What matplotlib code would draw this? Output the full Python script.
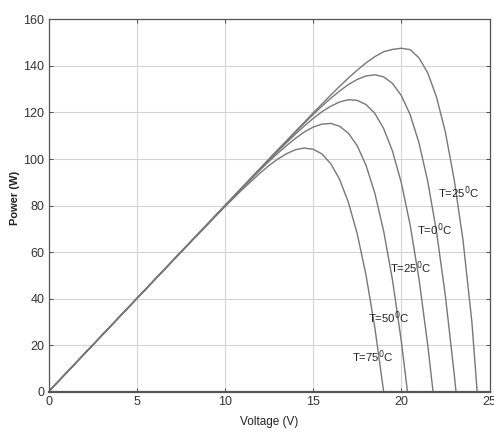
import numpy as np
import matplotlib.pyplot as plt

plt.rcParams['font.family'] = ['Liberation Sans', 'DejaVu Sans']

# P-V curves, one per cell temperature
v_m25 = [0, 2.5, 5, 7.5, 10, 11, 12, 12.5, 13, 13.5, 14, 14.5, 15, 15.5, 16, 16.5, 17, 17.5,
         18, 18.5, 19, 19.5, 20, 20.5, 21, 21.5, 22, 22.5, 23, 23.5, 24, 24.3]
p_m25 = [0, 20.0, 40.0, 60.0, 80.0, 88.0, 96.0, 100.0, 104.0, 107.9, 111.9, 115.8, 119.8, 123.6,
         127.5, 131.2, 134.8, 138.2, 141.3, 144.0, 146.1, 147.1, 147.6, 147.0, 143.5, 137.0,
         126.5, 111.5, 91.0, 65.0, 30.0, 0]

v_0 = [0, 2.5, 5, 7.5, 10, 11, 12, 12.5, 13, 13.5, 14, 14.5, 15, 15.5, 16, 16.5, 17, 17.5,
       18, 18.5, 19, 19.5, 20, 20.5, 21, 21.5, 22, 22.5, 23, 23.1]
p_0 = [0, 20.0, 40.0, 60.0, 80.0, 88.0, 95.9, 99.9, 103.8, 107.7, 111.6, 115.4, 119.1, 122.7,
       126.1, 129.2, 132.0, 134.2, 135.7, 136.2, 135.3, 132.5, 127.3, 119.1, 107.0, 90.4,
       68.6, 41.1, 7.5, 0]

v_25 = [0, 2.5, 5, 7.5, 10, 11, 12, 12.5, 13, 13.5, 14, 14.5, 15, 15.5, 16, 16.5, 17, 17.5,
        18, 18.5, 19, 19.5, 20, 20.5, 21, 21.5, 21.8]
p_25 = [0, 20.0, 40.0, 60.0, 79.9, 87.9, 95.7, 99.6, 103.4, 107.1, 110.7, 114.2, 117.4, 120.3,
        122.7, 124.5, 125.5, 125.2, 123.4, 119.6, 113.1, 103.4, 89.8, 71.7, 48.6, 20.0, 0]

v_50 = [0, 2.5, 5, 7.5, 10, 11, 12, 12.5, 13, 13.5, 14, 14.5, 15, 15.5, 16, 16.5, 17, 17.5,
        18, 18.5, 19, 19.5, 20, 20.35]
p_50 = [0, 20.0, 40.0, 60.0, 79.8, 87.7, 95.3, 99.0, 102.5, 105.8, 108.9, 111.6, 113.7, 115.0,
        115.3, 114.1, 111.1, 105.7, 97.3, 85.3, 69.0, 48.0, 21.7, 0]

v_75 = [0, 2.5, 5, 7.5, 10, 11, 12, 12.5, 13, 13.5, 14, 14.5, 15, 15.5, 16, 16.5, 17, 17.5,
        18, 18.5, 19]
p_75 = [0, 20.0, 40.0, 59.9, 79.5, 87.0, 94.0, 97.2, 100.0, 102.3, 104.0, 104.7, 104.2, 102.2,
        98.0, 91.3, 81.4, 67.9, 50.1, 27.5, 0]

curves = [(v_m25, p_m25), (v_0, p_0), (v_25, p_25), (v_50, p_50), (v_75, p_75)]

labels = ['T=25$^{\\rm 0}$C', 'T=0$^{\\rm 0}$C', 'T=25$^{\\rm 0}$C', 'T=50$^{\\rm 0}$C', 'T=75$^{\\rm 0}$C']
label_x = [23.27, 21.9, 20.55, 19.3, 18.4]
label_y = [85.4, 69.5, 53.1, 31.7, 14.9]

fig = plt.figure(figsize=(4.94, 4.38), dpi=100)
ax = fig.add_axes([0.0982, 0.1057, 0.8927, 0.850])

for v, p in curves:
    ax.plot(v, p, color='#777777', lw=1.0, solid_joinstyle='round')

for t, x, y in zip(labels, label_x, label_y):
    ax.text(x, y, t, ha='center', va='center', fontsize=8.2, color='#222222')

ax.set_xlim(0, 25)
ax.set_ylim(0, 160)
ax.set_xticks(range(0, 26, 5))
ax.set_yticks(range(0, 161, 20))
ax.grid(True, color='#d4d4d4', lw=0.8)
ax.tick_params(direction='in', top=True, right=True, length=3, width=0.6,
               labelsize=9, colors='#333333', pad=3)
for s in ax.spines.values():
    s.set_color('#555555')
    s.set_linewidth(0.9)
ax.spines['bottom'].set_linewidth(1.6)

ax.set_xlabel('Voltage (V)', fontsize=8.5, color='#222222', labelpad=6)
ax.set_ylabel('Power (W)', fontsize=8, color='#222222', fontweight='bold')
ax.yaxis.set_label_coords(-0.065, 0.52)

fig.savefig('out.png', dpi=100)
